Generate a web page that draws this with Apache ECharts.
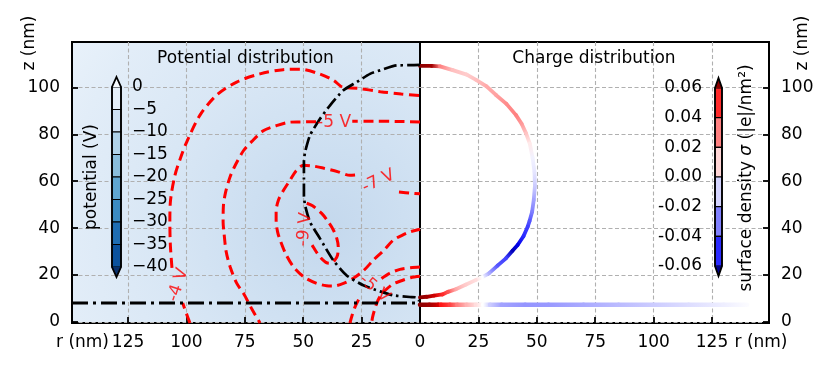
<!DOCTYPE html>
<html><head><meta charset="utf-8">
<script src="https://cdn.jsdelivr.net/npm/echarts/dist/echarts.min.js"></script>
<style>html,body{margin:0;padding:0;background:#fff}#c{width:830px;height:369px}</style>
</head><body><div id="c"></div>
<script>
// ---------- tick labels ----------
const rTickValsLeft = [25, 50, 75, 100, 125];
const rTickLabelsLeft = ['25', '50', '75', '100', '125'];
const rTickValsRight = [0, 25, 50, 75, 100, 125];
const rTickLabelsRight = ['0', '25', '50', '75', '100', '125'];
const zTickVals = [0, 20, 40, 60, 80, 100];
const zTickLabels = ['0', '20', '40', '60', '80', '100'];
const potTickVals = [0, -5, -10, -15, -20, -25, -30, -35, -40];
const potTickLabels = ['0', '\u22125', '\u221210', '\u221215', '\u221220', '\u221225', '\u221230', '\u221235', '\u221240'];
const sigmaTickVals = [0.06, 0.04, 0.02, 0, -0.02, -0.04, -0.06];
const sigmaTickLabels = ['0.06', '0.04', '0.02', '0.00', '-0.02', '-0.04', '-0.06'];

// ---------- colorbar levels ----------
const potLevels = [0, -5, -10, -15, -20, -25, -30, -35, -40];
const sigmaLevels = [0.06, 0.04, 0.02, 0, -0.02, -0.04, -0.06];

// ---------- potential contours (r nm, z nm) ----------
const cont4A = [[98.5, -0.5], [100, 3.5], [101.6, 8]];
const cont4B = [[106.2, 23], [106.9, 33], [107.1, 42.6], [106.8, 52], [104.9, 62.6], [102.5, 70], [99.9, 76.7], [94.2, 88.2], [87.0, 96.8], [78.5, 102.3], [68.5, 105.8], [58.6, 107.6], [51.4, 107.8], [42.8, 105.7], [37, 103], [32.8, 100], [27, 99.7], [17, 98.2], [8, 97.2], [0, 96.5]];
const cont5A = [[0, 85.3], [10, 85.5], [20, 85.6], [29, 85.6]];
const cont5B = [[44.5, 85.4], [51.4, 85.3], [55.6, 85.2], [62, 83.5], [67.1, 81.5], [72, 77], [75.6, 73], [79, 67], [81.3, 61.9], [83.3, 55], [84.2, 49], [84.3, 42.6], [83.9, 37.8], [83, 30], [81.3, 23.5], [78.5, 16.5], [75.6, 12.2], [72, 5.5], [68.5, -0.5]];
const cont7A = [[27.8, 62.6], [30, 62.5], [35, 64], [41.4, 65.6], [46, 66.5], [49.9, 66.8], [53, 64.5], [55.6, 60.5], [58.5, 56], [60.6, 52], [61.6, 47], [61.6, 43.4], [61, 38.5], [59.9, 34.9], [57.5, 29], [54.2, 23.5], [49.5, 19], [44.2, 16.4], [40, 15.4], [37, 15.3], [32.5, 16.5], [28.5, 18.6], [24, 22], [19.9, 26.4], [15.5, 30.5], [11.4, 34.9], [7.5, 37], [4.3, 38.4], [0, 39.5]];
const cont7B = [[9, 55.4], [4, 54.9], [0, 54.6]];
const cont9 = [[48.5, 50.6], [46, 49.5], [42.1, 46.3], [39.5, 43], [37.1, 39.2], [35.6, 35.5], [35, 32], [35.3, 28.5], [36.4, 26.4], [38, 25], [40, 25.2], [42.5, 27.3], [44.5, 30], [46, 32.4], [47.3, 34.5]];
const contLowA1 = [[0, 23.4], [4, 23.1], [8.6, 22.4], [13, 20.7], [16.5, 18.5]];
const contLowA2 = [[26.3, 9.5], [27.8, 6.4], [29, 3], [30, -0.5]];
const contLowB = [[0, 19.4], [4, 18.8], [8.6, 17.3], [11.4, 16.2], [14.5, 13.8], [17, 11], [18.5, 8], [19.5, 5], [20.3, 2], [20.7, -0.5]];

const contourLabelText = ['-4 V', '-5 V', '-7 V', '-9 V', '-5 V'];
const contourLabelR = [103.6, 36.8, 17.8, 49.4, 19.5];
const contourLabelZ = [15.7, 84.9, 60.0, 39.4, 14.2];
const contourLabelRot = [72, 0, 25, 85, -40];

// ---------- boundaries (black dash-dot) ----------
const boundary = [[0, 109.6], [5, 109.5], [10, 109.4], [17.1, 107.3], [21.4, 105.8], [27.1, 102.3], [32.8, 98.8], [38.5, 92.4], [42.8, 86.6], [47.1, 79.6], [49.2, 72.4], [49.7, 68.2], [49.7, 61], [49.7, 54], [49.2, 49.7], [47.1, 42.6], [42.8, 35.5], [37.1, 26.2], [31.4, 19.8], [24.3, 15.6], [17.1, 13], [11.4, 11.3], [4.3, 10.6], [1.5, 10.4], [0.7, 9.2], [0, 9.2]];
const substrate = [[149, 8], [0, 8]];

// ---------- surface charge ----------
const surfR = [0, 5, 8.6, 14, 20, 24, 28.5, 32.5, 37, 41.1, 43.5, 45.4, 47, 48.2, 49, 49.2, 48.7, 48, 46.9, 46.1, 44.3, 41.8, 39.6, 36.8, 33.2, 29.5, 26.5, 23.8, 19.5, 15.3, 12, 9.6, 6, 2.9, 0];
const surfZ = [109.2, 109.2, 109, 107.4, 105.5, 103.2, 100.5, 96.8, 93, 88.2, 84.5, 80.4, 76, 70, 64, 58, 52, 47, 43, 40.6, 36.5, 32.8, 30.3, 27.1, 24, 20.7, 19, 17.8, 15.8, 13.9, 12.8, 11.7, 11.2, 10.7, 10.4];
const surfSigma = [0.09, 0.08, 0.03, 0.015, 0.012, 0.015, 0.02, 0.022, 0.027, 0.03, 0.024, 0.014, 0.005, -0.003, -0.006, -0.012, -0.022, -0.03, -0.04, -0.045, -0.05, -0.065, -0.075, -0.045, -0.04, -0.02, 0, 0.008, 0.012, 0.02, 0.04, 0.05, 0.07, 0.08, 0.09];
const baseZ = 7.25;
const baseR = [0, 4, 7.8, 9, 12.8, 16, 20, 24, 27, 30, 35, 45, 55, 70, 85, 100, 115, 130, 140];
const baseSigma = [0.085, 0.08, 0.07, 0.055, 0.045, 0.03, 0.018, 0.008, 0, -0.012, -0.022, -0.025, -0.024, -0.02, -0.016, -0.012, -0.008, -0.004, -0.001];

// ---------- styles ----------
const F = 'DejaVu Sans';
const FS = 17;
const potBandColors = ['#e6f0fa', '#cfe1f2', '#b0d2e8', '#8abedc', '#5fa6d1', '#3b8bc2', '#1e6db2', '#0b529d'];
const potOver = '#f7fbff', potUnder = '#08306b';
const sigOver = '#8b0000', sigUnder = '#00008b';

function sigmaColor(v) {
  const lim = 0.06; let r, g, b;
  if (v > lim) { const t = Math.min((v - lim) / 0.025, 1); r = 255 - t * 116; g = 0; b = 0; }
  else if (v < -lim) { const t = Math.min((-v - lim) / 0.025, 1); r = 0; g = 0; b = 255 - t * 116; }
  else { const t = (v + lim) / (2 * lim); if (t < 0.5) { r = g = 510 * t; b = 255; } else { r = 255; g = b = 510 * (1 - t); } }
  return 'rgb(' + Math.round(r) + ',' + Math.round(g) + ',' + Math.round(b) + ')';
}
const sigmaBandColors = [];
for (let i = 0; i < sigmaLevels.length - 1; i++) sigmaBandColors.push(sigmaColor((sigmaLevels[i] + sigmaLevels[i + 1]) / 2));

function fmt(vals, labels) {
  return function (v) { for (let i = 0; i < vals.length; i++) if (Math.abs(v - vals[i]) < 1e-6) return labels[i]; return ''; };
}
const gridLine = { show: true, showMinLine: false, showMaxLine: false, lineStyle: { color: '#b0b0b0', type: [4, 2.5], width: 1.1 } };
const tick = { show: true, inside: true, length: 6, lineStyle: { color: '#000', width: 1.8 } };
const lbl = { fontFamily: F, fontSize: FS, color: '#000' };
const noLine = { show: false, onZero: false };

const redDash = { color: '#ff0000', width: 3, type: [10, 5.5] };
const blackDashDot = { color: '#000', width: 2.7, type: [13, 4, 2.5, 4] };
function lineSeries(data, style, smooth) {
  return { type: 'line', xAxisIndex: 0, yAxisIndex: 0, data: data, showSymbol: false, symbol: 'none', smooth: smooth, lineStyle: style, silent: true, z: 3 };
}

function segSeries(points, width) {
  return {
    type: 'custom', xAxisIndex: 1, yAxisIndex: 1, silent: true, z: 4, data: points, encode: { x: 0, y: 1 },
    renderItem: function (params, api) {
      const i = params.dataIndex;
      if (i >= points.length - 1) return null;
      const a = points[i], b = points[i + 1];
      const p = api.coord([a[0], a[1]]), q = api.coord([b[0], b[1]]);
      return { type: 'line', shape: { x1: p[0], y1: p[1], x2: q[0], y2: q[1] },
        style: { stroke: new echarts.graphic.LinearGradient(p[0], p[1], q[0] + 0.01, q[1] + 0.01, [{ offset: 0, color: sigmaColor(a[2]) }, { offset: 1, color: sigmaColor(b[2]) }], true), lineWidth: width, lineCap: 'round' } };
    }
  };
}

function colorbarSeries(idx, levels, colors, over, under) {
  const bands = [];
  for (let i = 0; i < levels.length - 1; i++) bands.push([levels[i], levels[i + 1]]);
  return [{
    type: 'custom', xAxisIndex: idx, yAxisIndex: idx, silent: true, z: 5, data: bands, encode: { x: -1, y: [0, 1] },
    renderItem: function (params, api) {
      const a = api.coord([0, api.value(0)]), b = api.coord([1, api.value(1)]);
      return { type: 'rect', shape: { x: a[0], y: a[1], width: b[0] - a[0], height: b[1] - a[1] }, style: { fill: colors[params.dataIndex], stroke: '#000', lineWidth: 1.1 } };
    }
  }, {
    type: 'custom', xAxisIndex: idx, yAxisIndex: idx, silent: true, z: 6, data: [[levels[0], levels[levels.length - 1]]], encode: { x: -1, y: [0, 1] },
    renderItem: function (params, api) {
      const tl = api.coord([0, api.value(0)]), tr = api.coord([1, api.value(0)]);
      const bl = api.coord([0, api.value(1)]), br = api.coord([1, api.value(1)]);
      const mx = (tl[0] + tr[0]) / 2, ext = 10;
      const tt = [mx, tl[1] - ext], bt = [mx, bl[1] + ext];
      return { type: 'group', children: [
        { type: 'polygon', shape: { points: [tl, tr, tt] }, style: { fill: over } },
        { type: 'polygon', shape: { points: [bl, br, bt] }, style: { fill: under } },
        { type: 'polygon', shape: { points: [tt, tr, br, bt, bl, tl] }, style: { fill: 'none', stroke: '#000', lineWidth: 1.8 } }
      ] };
    }
  }];
}

const surfPts = surfR.map((r, i) => [r, surfZ[i], surfSigma[i]]);
const basePts = baseR.map((r, i) => [r, baseZ, baseSigma[i]]);

const bgGrad = { type: 'radial', x: 0.73, y: 0.66, r: 1.1, global: false,
  colorStops: [{ offset: 0, color: '#c4d8ed' }, { offset: 0.25, color: '#cddff1' }, { offset: 0.55, color: '#d9e7f5' }, { offset: 0.85, color: '#e2edf8' }, { offset: 1, color: '#e8f1fa' }] };

const series = [
  lineSeries(cont4A, redDash, 0.3), lineSeries(cont4B, redDash, 0.3),
  lineSeries(cont5A, redDash, 0.3), lineSeries(cont5B, redDash, 0.3),
  lineSeries(cont7A, redDash, 0.3), lineSeries(cont7B, redDash, 0.3),
  lineSeries(cont9, redDash, 0.3),
  lineSeries(contLowA1, redDash, 0.3), lineSeries(contLowA2, redDash, 0.3), lineSeries(contLowB, redDash, 0.3),
  Object.assign(lineSeries(boundary, blackDashDot, 0.2), { z: 4 }),
  Object.assign(lineSeries(substrate, { color: '#000', width: 3, type: [16, 5, 3, 5] }, false), { z: 4 }),
  {
    type: 'scatter', xAxisIndex: 0, yAxisIndex: 0, symbolSize: 0, silent: true, z: 6,
    data: contourLabelText.map((t, i) => ({ value: [contourLabelR[i], contourLabelZ[i]], name: t, label: { rotate: contourLabelRot[i] } })),
    label: { show: true, position: 'inside', formatter: p => p.name, color: '#ff0000', fontFamily: F, fontSize: FS }
  },
  segSeries(surfPts, 3.8), segSeries(basePts, 4.5)
].concat(colorbarSeries(2, potLevels, potBandColors, potOver, potUnder))
 .concat(colorbarSeries(3, sigmaLevels, sigmaBandColors, sigOver, sigUnder));

function txt(x, y, text, rot) {
  return { type: 'text', x: x, y: y, rotation: rot || 0, z: 100,
    style: { text: text, fontFamily: F, fontSize: FS, fill: '#000', align: 'center', verticalAlign: 'middle' } };
}

const option = {
  animation: false,
  backgroundColor: '#fff',
  grid: [
    { left: 72, top: 42, width: 348, height: 281, show: true, backgroundColor: bgGrad, borderColor: '#000', borderWidth: 2, containLabel: false, outerBoundsMode: 'none' },
    { left: 420, top: 42, width: 349, height: 281, show: true, backgroundColor: '#fff', borderColor: '#000', borderWidth: 2, containLabel: false, outerBoundsMode: 'none' },
    { left: 112, top: 87, width: 9, height: 180, containLabel: false, outerBoundsMode: 'none' },
    { left: 715, top: 88, width: 7, height: 178, containLabel: false, outerBoundsMode: 'none' }
  ],
  xAxis: [
    { gridIndex: 0, type: 'value', inverse: true, min: 0, max: 149, interval: 25, axisLine: noLine, axisTick: tick, splitLine: gridLine,
      axisLabel: Object.assign({ formatter: fmt(rTickValsLeft, rTickLabelsLeft), margin: 11 }, lbl) },
    { gridIndex: 1, type: 'value', min: 0, max: 149.4, interval: 25, axisLine: noLine, axisTick: tick, splitLine: gridLine,
      axisLabel: Object.assign({ formatter: fmt(rTickValsRight, rTickLabelsRight), margin: 11 }, lbl) },
    { gridIndex: 2, type: 'value', min: 0, max: 1, show: false },
    { gridIndex: 3, type: 'value', min: 0, max: 1, show: false }
  ],
  yAxis: [
    { gridIndex: 0, type: 'value', position: 'left', min: -0.5, max: 119.4, splitNumber: 6, axisLine: noLine, axisTick: tick, splitLine: gridLine,
      axisLabel: Object.assign({ formatter: fmt(zTickVals, zTickLabels), margin: 12 }, lbl) },
    { gridIndex: 1, type: 'value', position: 'right', min: -0.5, max: 119.4, splitNumber: 6, axisLine: noLine, axisTick: tick, splitLine: gridLine,
      axisLabel: Object.assign({ formatter: fmt(zTickVals, zTickLabels), margin: 12 }, lbl) },
    { gridIndex: 2, type: 'value', position: 'right', min: -40, max: 0, interval: 5, axisLine: noLine, axisTick: { show: false }, splitLine: { show: false },
      axisLabel: Object.assign({ formatter: fmt(potTickVals, potTickLabels), margin: 11 }, lbl) },
    { gridIndex: 3, type: 'value', position: 'left', min: -0.06, max: 0.06, interval: 0.02, axisLine: noLine, axisTick: { show: false }, splitLine: { show: false },
      axisLabel: Object.assign({ formatter: fmt(sigmaTickVals, sigmaTickLabels), margin: 13 }, lbl) }
  ],
  graphic: [
    txt(245.5, 58.5, 'Potential distribution'),
    txt(594, 58.5, 'Charge distribution'),
    txt(29.5, 43, 'z (nm)', Math.PI / 2),
    txt(802.5, 43, 'z (nm)', Math.PI / 2),
    txt(82.5, 343, 'r (nm)'),
    txt(761, 343, 'r (nm)'),
    txt(91.7, 177, 'potential (V)', Math.PI / 2),
    { type: 'text', x: 746.5, y: 178, rotation: Math.PI / 2, z: 100,
      style: { text: '{a|surface density }{b|\u03c3}{a| (|e|/nm\u00b2)}', align: 'center', verticalAlign: 'middle',
        rich: { a: { fontFamily: F, fontSize: FS, fill: '#000' }, b: { fontFamily: F, fontSize: FS, fontStyle: 'italic', fill: '#000' } } } }
  ],
  series: series
};
const chart = echarts.init(document.getElementById('c'), null, { renderer: 'canvas', width: 830, height: 369 });
chart.setOption(option);
</script></body></html>
